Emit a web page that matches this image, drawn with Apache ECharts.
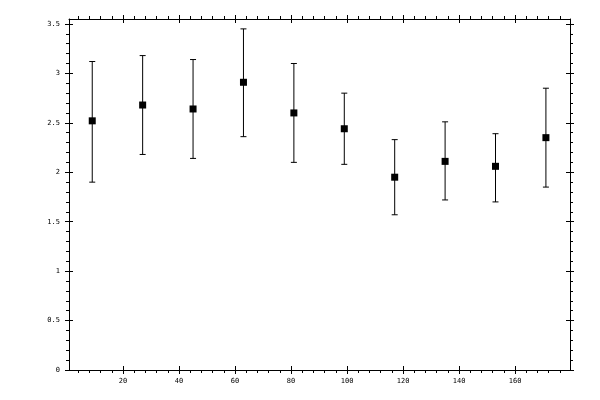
<!DOCTYPE html>
<html lang="en">
<head>
    <meta charset="UTF-8">
    <title>Error bars</title>
    <script src="https://cdn.jsdelivr.net/npm/echarts@6/dist/echarts.min.js"></script>
    <style>
        html, body { margin: 0; padding: 0; background: #fff; }
        .box { width: 600px; height: 400px; }
    </style>
</head>
<body>
<div id="main" class="box"></div>
<script>
    // data
    var xs   = [9, 27, 45, 63, 81, 99, 117, 135, 153, 171];
    var ys   = [2.52, 2.68, 2.64, 2.91, 2.60, 2.44, 1.95, 2.11, 2.06, 2.35];
    var his  = [3.12, 3.18, 3.14, 3.45, 3.10, 2.80, 2.33, 2.51, 2.39, 2.85];
    var los  = [1.90, 2.18, 2.14, 2.36, 2.10, 2.08, 1.57, 1.72, 1.70, 1.85];

    // tick positions
    var xMajor = [20, 40, 60, 80, 100, 120, 140, 160];
    var xMinor = [4, 8, 12, 16, 24, 28, 32, 36, 44, 48, 52, 56, 64, 68, 72, 76,
                  84, 88, 92, 96, 104, 108, 112, 116, 124, 128, 132, 136,
                  144, 148, 152, 156, 164, 168, 172, 176];
    var yMajor = [0, 0.5, 1, 1.5, 2, 2.5, 3, 3.5];
    var yMinor = [0.1, 0.2, 0.3, 0.4, 0.6, 0.7, 0.8, 0.9, 1.1, 1.2, 1.3, 1.4,
                  1.6, 1.7, 1.8, 1.9, 2.1, 2.2, 2.3, 2.4, 2.6, 2.7, 2.8, 2.9,
                  3.1, 3.2, 3.3, 3.4];

    var X_MIN = 0.7, X_MAX = 179.6, Y_MIN = 0, Y_MAX = 3.55;

    var labelFont = { color: '#000', fontSize: 7, fontFamily: 'DejaVu Sans Mono' };

    // one axis layer: line and/or ticks and/or labels
    function axis(kind, pos, ticks, len, inside, line, labels, margin) {
        var a = {
            type: 'value',
            position: pos,
            min: kind === 'x' ? X_MIN : Y_MIN,
            max: kind === 'x' ? X_MAX : Y_MAX,
            splitLine: { show: false },
            axisLine: { show: line, onZero: false, lineStyle: { color: '#000', width: 1 } },
            axisTick: { show: true, inside: inside, length: len, customValues: ticks,
                        lineStyle: { color: '#000', width: 1 } },
            axisLabel: { show: false }
        };
        if (labels) {
            a.axisLabel = Object.assign({ show: true, customValues: labels, margin: margin }, labelFont);
        }
        return a;
    }

    var xAxes = [
        axis('x', 'bottom', xMajor, 4, false, true, xMajor, 8),
        axis('x', 'bottom', xMinor, 3, false, false),
        axis('x', 'bottom', xMajor, 4, true, false),
        axis('x', 'top', xMajor, 4, false, true),
        axis('x', 'top', xMinor, 3, false, false),
        axis('x', 'top', xMajor, 4, true, false)
    ];
    var yAxes = [
        axis('y', 'left', yMajor, 4, false, true, yMajor, 9),
        axis('y', 'left', yMinor, 3, false, false),
        axis('y', 'left', yMajor, 4, true, false),
        axis('y', 'right', yMajor, 4, false, true),
        axis('y', 'right', yMinor, 3, false, false),
        axis('y', 'right', yMajor, 4, true, false)
    ];

    var points = xs.map(function (x, i) { return [x, ys[i]]; });
    var bars = xs.map(function (x, i) { return [x, los[i], his[i]]; });

    var chart = echarts.init(document.getElementById('main'));
    chart.setOption({
        animation: false,
        backgroundColor: '#fff',
        grid: { left: 69, right: 30, top: 19, bottom: 30 },
        xAxis: xAxes,
        yAxis: yAxes,
        series: [
            {
                type: 'custom',
                name: 'error',
                xAxisIndex: 0,
                yAxisIndex: 0,
                data: bars,
                encode: { x: 0, y: [1, 2] },
                renderItem: function (params, api) {
                    var x = api.value(0);
                    var lo = api.coord([x, api.value(1)]);
                    var hi = api.coord([x, api.value(2)]);
                    var w = 3;
                    var style = { stroke: '#000', lineWidth: 1 };
                    return {
                        type: 'group',
                        children: [
                            { type: 'line', shape: { x1: lo[0], y1: lo[1], x2: hi[0], y2: hi[1] }, style: style },
                            { type: 'line', shape: { x1: hi[0] - w, y1: hi[1], x2: hi[0] + w, y2: hi[1] }, style: style },
                            { type: 'line', shape: { x1: lo[0] - w, y1: lo[1], x2: lo[0] + w, y2: lo[1] }, style: style }
                        ]
                    };
                },
                z: 2
            },
            {
                type: 'scatter',
                name: 'value',
                xAxisIndex: 0,
                yAxisIndex: 0,
                data: points,
                symbol: 'rect',
                symbolSize: 7,
                itemStyle: { color: '#000', opacity: 1 },
                z: 3
            }
        ]
    });
</script>
</body>
</html>
